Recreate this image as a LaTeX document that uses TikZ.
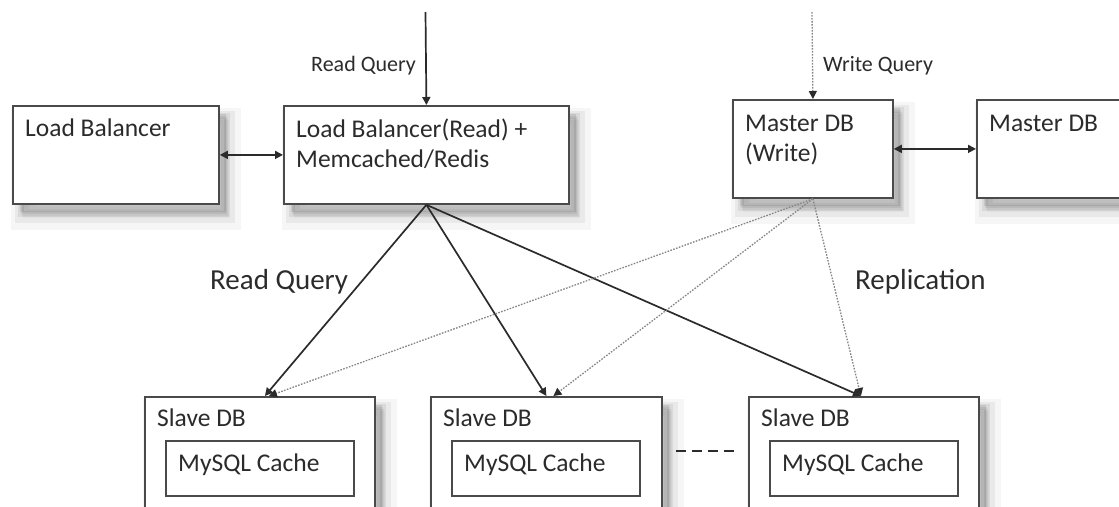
\documentclass[tikz,border=0pt]{standalone}
\usepackage{fontspec}
\setmainfont{Carlito}
\usepackage{tikz}
\usetikzlibrary{arrows.meta,positioning,calc,shadows}

\definecolor{ink}{HTML}{2B2B2B}
\definecolor{frame}{HTML}{4A4A4A}
\definecolor{repl}{HTML}{858585}

\begin{document}
\begin{tikzpicture}[x=1pt, y=-1pt,
  >={Triangle[length=8pt,width=8pt]},
  shd/.style={
    general shadow={fill=black, draw=black, line width=24pt, opacity=.035, shadow xshift=10pt, shadow yshift=-14pt},
    general shadow={fill=black, draw=black, line width=14pt, opacity=.05, shadow xshift=9pt, shadow yshift=-12pt},
    general shadow={fill=black, draw=black, line width=6pt, opacity=.07, shadow xshift=8pt, shadow yshift=-10pt},
    general shadow={fill=black, opacity=.09, shadow xshift=7pt, shadow yshift=-8pt}},
  box/.style={draw=frame, line width=1.8pt, fill=white, anchor=north west, inner sep=0pt, shd},
  inbox/.style={draw=frame, line width=1.8pt, fill=white, anchor=north west, inner sep=0pt,
                minimum width=188pt, minimum height=55pt},
  txt/.style={font=\fontsize{25.5}{30}\selectfont, text=ink, anchor=base west, inner sep=0pt},
  qlbl/.style={font=\fontsize{22}{26}\selectfont, text=ink, anchor=base west, inner sep=0pt},
  biglbl/.style={font=\fontsize{29}{34}\selectfont, text=ink, anchor=base west, inner sep=0pt},
  link/.style={draw=ink, line width=1.7pt},
  copy/.style={draw=repl, line width=1.3pt, dash pattern=on 1.6pt off 1.4pt,
               -{Triangle[length=8pt,width=8pt,color=ink]}}
]
\useasboundingbox (0,0) rectangle (1119,506);
\clip (0,0) rectangle (1119,506);

% front boxes
\node[box, minimum width=206pt, minimum height=98pt] (lb)  at (12,105) {};
\node[box, minimum width=285pt, minimum height=98pt] (lbr) at (283,105) {};
\node[box, minimum width=160pt, minimum height=98pt] (mw)  at (732,99) {};
\node[box, minimum width=170pt, minimum height=98pt] (md)  at (976,99) {};

\node[txt] at ($(lb.north west)+(13,31)$)  {Load Balancer};
\node[txt] at ($(lbr.north west)+(13,32)$) {Load Balancer(Read) +};
\node[txt] at ($(lbr.north west)+(13,62)$) {Memcached/Redis};
\node[txt] at ($(mw.north west)+(13,32)$)  {Master DB};
\node[txt] at ($(mw.north west)+(13,62)$)  {(Write)};
\node[txt] at ($(md.north west)+(13,32)$)  {Master DB};

% slave boxes
\node[box, minimum width=230pt, minimum height=130pt] (s1) at (144,396) {};
\node[box, minimum width=231pt, minimum height=130pt] (s2) at (430,396) {};
\node[box, minimum width=230pt, minimum height=130pt] (s3) at (748,396) {};
\foreach \s in {s1,s2,s3} {
  \node[txt] at ($(\s.north west)+(13,30)$) {Slave DB};
  \node[inbox] (\s c) at ($(\s.north west)+(21,44)$) {};
  \node[txt] at ($(\s c.north west)+(13,31)$) {MySQL Cache};
}

% incoming queries
\coordinate (rq) at (425.5,12);
\coordinate (wq) at (812,12);
\draw[link,->] (rq) -- (lbr.north);
\draw[copy] (wq) -- (mw.north);
\node[qlbl] at (311,71) {Read Query};
\node[qlbl] at (823,71) {Write Query};

% side links
\draw[link,<->] (lb.east) -- (lbr.west);
\draw[link,<->] (mw.east) -- (md.west);

% read fan-out
\draw[link,->] (lbr.south) -- ([xshift=5pt]s1.north);
\draw[link,->] (lbr.south) -- (s2.north);
\draw[link,->] (lbr.south) -- ([xshift=-3pt]s3.north);

% replication
\draw[copy] (mw.south) -- ([xshift=9pt]s1.north);
\draw[copy] (mw.south) -- ([xshift=7pt]s2.north);
\draw[copy] (mw.south) -- ([xshift=-3pt]s3.north);

\node[biglbl] at (210,289) {Read Query};
\node[biglbl] at (855,289) {Replication};

% more slaves
\coordinate (dA) at (676,451);
\coordinate (dB) at (735,451);
\draw[draw=ink, line width=2.4pt, dash pattern=on 10pt off 6pt] (dA) -- (dB);
\end{tikzpicture}
\end{document}
